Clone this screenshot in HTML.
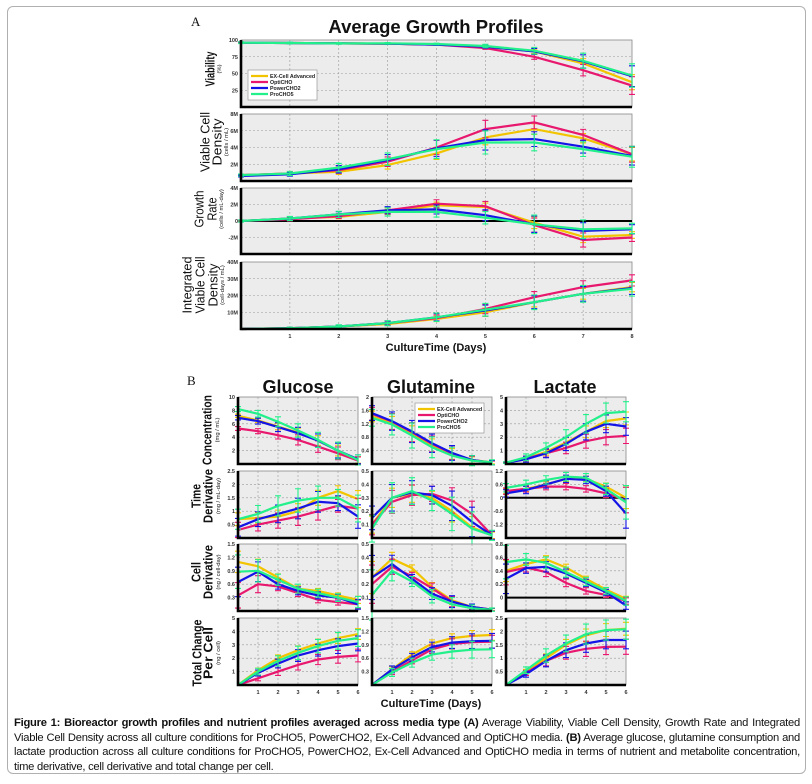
<!DOCTYPE html>
<html><head><meta charset="utf-8"><style>
body{margin:0;background:#fff;width:812px;height:784px;overflow:hidden;font-family:"Liberation Sans",sans-serif}
#frame{position:absolute;left:7px;top:6px;width:799px;height:768px;border:1px solid #b0b0b0;border-radius:6px;box-sizing:border-box}
#cap{position:absolute;left:14px;top:716px;width:786px;font-size:11.2px;line-height:14.6px;color:#111;letter-spacing:-0.25px;text-align:justify}
svg{position:absolute;left:0;top:0}
</style></head><body>
<div id="frame"></div>
<div id="cap"><b>Figure 1: Bioreactor growth profiles and nutrient profiles averaged across media type (A)</b> Average Viability, Viable Cell Density, Growth Rate and Integrated Viable Cell Density across all culture conditions for ProCHO5, PowerCHO2, Ex-Cell Advanced and OptiCHO media. <b>(B)</b> Average glucose, glutamine consumption and lactate production across all culture conditions for ProCHO5, PowerCHO2, Ex-Cell Advanced and OptiCHO media in terms of nutrient and metabolite concentration, time derivative, cell derivative and total change per cell.</div>
<svg id="chart" width="812" height="784"></svg>
<script>
const seriesNames=["EX-Cell Advanced","OptiCHO","PowerCHO2","ProCHO5"];
const colors=["#f2c400","#e8186e","#1414e6","#22f08a"];
const daysA=[0,1,2,3,4,5,6,7,8];
const daysB=[0,1,2,3,4,5,6];
// Part A
const viabY=[96,95.5,95,94.5,93,90,83,65,37];
const viabP=[96,95.5,95,94.5,93,88,75,55,32];
const viabB=[96,95.5,95,94.5,93,90,83,68,46];
const viabG=[96,95.5,95,95,94,91,84,69,47];
const viabErr=[1,1,1,1,1,2,4,9,14];
const vcdY=[0.7,0.9,1.1,1.9,3.3,5.2,6.2,5.1,3.2];
const vcdP=[0.7,0.9,1.3,2.3,4.0,6.2,7.0,5.5,3.2];
const vcdB=[0.6,0.8,1.4,2.5,3.9,4.9,5.0,4.1,3.0];
const vcdG=[0.7,0.9,1.6,2.6,3.8,4.6,4.6,3.8,2.9];
const vcdErr=[0.1,0.2,0.4,0.6,0.9,1.1,0.8,0.7,1.0];
const grY=[0,0.3,0.5,1.1,1.9,1.7,-0.2,-1.9,-1.7];
const grP=[0,0.2,0.6,1.3,2.1,1.8,-0.5,-2.3,-2.0];
const grB=[0,0.3,0.8,1.3,1.4,0.7,-0.4,-1.2,-1.0];
const grG=[0,0.3,0.8,1.1,1.1,0.4,-0.4,-1.0,-0.9];
const grErr=[0.1,0.2,0.3,0.4,0.5,0.6,0.9,0.9,0.5];
const ivY=[0,0.5,1.5,3,6,10,16,21,25];
const ivP=[0,0.5,1.5,3.5,6.5,12,19,25,29];
const ivB=[0,0.5,1.5,3.5,7,11,16,21,24.5];
const ivG=[0,0.5,1.5,3.5,7,11.5,16,21,24];
const ivErr=[0,0.5,0.8,1.2,2,3,3.5,4,3.5];
// Part B - concentration
const gluConcY=[7.2,6.5,5.6,4.7,3.5,2.0,0.6];
const gluConcP=[5.3,4.9,4.3,3.6,2.6,1.6,0.5];
const gluConcB=[6.9,6.4,5.5,4.6,3.5,2.0,0.7];
const gluConcG=[8.2,7.5,6.3,5.0,3.6,2.0,0.6];
const gluConcErr=[0.3,0.4,0.6,0.8,0.9,1.0,0.6];
const glnConcY=[1.42,1.22,0.9,0.55,0.3,0.12,0.05];
const glnConcP=[1.5,1.27,0.95,0.6,0.32,0.12,0.03];
const glnConcB=[1.52,1.28,0.97,0.62,0.33,0.12,0.04];
const glnConcG=[1.38,1.18,0.85,0.5,0.25,0.1,0.05];
const glnConcErr=[0.2,0.25,0.3,0.25,0.2,0.12,0.06];
const lacConcY=[0.1,0.4,0.9,1.6,2.4,3.2,3.4];
const lacConcP=[0.1,0.4,0.8,1.2,1.7,2.0,2.1];
const lacConcB=[0.1,0.35,0.8,1.5,2.4,3.0,2.8];
const lacConcG=[0.1,0.5,1.2,2.0,3.0,3.8,3.9];
const lacConcErr=[0.05,0.2,0.3,0.45,0.55,0.6,0.6];
// time derivative
const gluTdY=[0.7,0.75,0.8,1.0,1.5,1.75,1.45];
const gluTdP=[0.3,0.5,0.65,0.8,1.0,1.2,1.1];
const gluTdB=[0.4,0.7,0.9,1.1,1.35,1.3,0.8];
const gluTdG=[0.7,0.9,1.2,1.4,1.5,1.5,1.1];
const gluTdErr=[0.3,0.25,0.3,0.35,0.35,0.25,0.4];
const glnTdY=[0.1,0.3,0.33,0.3,0.2,0.08,0.02];
const glnTdP=[0.1,0.27,0.32,0.33,0.28,0.18,0.02];
const glnTdB=[0.15,0.3,0.34,0.32,0.24,0.12,0.02];
const glnTdG=[0.07,0.3,0.35,0.28,0.18,0.07,0.02];
const glnTdErr=[0.08,0.09,0.08,0.06,0.1,0.1,0.03];
const lacTdY=[0.3,0.4,0.6,0.85,0.85,0.5,0.0];
const lacTdP=[0.3,0.4,0.5,0.5,0.4,0.2,-0.1];
const lacTdB=[0.2,0.35,0.6,0.85,0.8,0.3,-0.7];
const lacTdG=[0.45,0.6,0.8,0.95,0.9,0.4,-0.2];
const lacTdErr=[0.15,0.15,0.15,0.15,0.15,0.2,0.6];
// cell derivative
const gluCdY=[1.1,1.0,0.75,0.5,0.45,0.35,0.25];
const gluCdP=[0.35,0.6,0.55,0.4,0.25,0.2,0.15];
const gluCdB=[0.65,0.88,0.6,0.45,0.35,0.3,0.15];
const gluCdG=[0.88,0.9,0.7,0.5,0.4,0.3,0.2];
const gluCdErr=[0.3,0.2,0.1,0.08,0.07,0.07,0.1];
const glnCdY=[0.25,0.39,0.32,0.18,0.08,0.03,0.01];
const glnCdP=[0.2,0.33,0.26,0.17,0.07,0.03,0.01];
const glnCdB=[0.25,0.35,0.24,0.13,0.07,0.03,0.01];
const glnCdG=[0.12,0.3,0.22,0.11,0.05,0.02,0.01];
const glnCdErr=[0.15,0.06,0.03,0.04,0.04,0.02,0.01];
const lacCdY=[0.4,0.5,0.57,0.45,0.28,0.12,-0.02];
const lacCdP=[0.38,0.45,0.38,0.22,0.1,0.04,-0.05];
const lacCdB=[0.28,0.44,0.46,0.36,0.22,0.08,-0.12];
const lacCdG=[0.53,0.57,0.52,0.38,0.24,0.1,-0.05];
const lacCdErr=[0.2,0.07,0.07,0.06,0.05,0.04,0.05];
// total change per cell
const gluTcY=[0,1.1,2.0,2.6,3.1,3.5,3.8];
const gluTcP=[0,0.5,1.0,1.5,1.9,2.1,2.2];
const gluTcB=[0,0.9,1.6,2.2,2.6,2.9,3.1];
const gluTcG=[0,1.0,1.8,2.4,2.9,3.3,3.5];
const gluTcErr=[0,0.2,0.3,0.4,0.4,0.5,0.5];
const glnTcY=[0,0.35,0.68,0.93,1.05,1.1,1.12];
const glnTcP=[0,0.3,0.55,0.8,0.92,0.96,0.97];
const glnTcB=[0,0.35,0.62,0.85,0.95,0.98,0.99];
const glnTcG=[0,0.28,0.5,0.68,0.75,0.79,0.8];
const glnTcErr=[0,0.07,0.08,0.1,0.12,0.15,0.15];
const lacTcY=[0,0.5,1.0,1.5,1.85,2.05,2.1];
const lacTcP=[0,0.45,0.9,1.2,1.35,1.42,1.43];
const lacTcB=[0,0.4,0.9,1.3,1.55,1.68,1.68];
const lacTcG=[0,0.55,1.1,1.55,1.9,2.05,2.08];
const lacTcErr=[0,0.1,0.2,0.25,0.3,0.3,0.3];
// tick labels
const ticksViab=[[25,"25"],[50,"50"],[75,"75"],[100,"100"]];
const ticksVcd=[[2,"2M"],[4,"4M"],[6,"6M"],[8,"8M"]];
const ticksGr=[[-2,"-2M"],[0,"0"],[2,"2M"],[4,"4M"]];
const ticksIv=[[10,"10M"],[20,"20M"],[30,"30M"],[40,"40M"]];

const NS="http://www.w3.org/2000/svg";
const svg=document.getElementById('chart');
function el(tag,attrs,parent,text){const e=document.createElementNS(NS,tag);for(const k in attrs)e.setAttribute(k,attrs[k]);if(text!==undefined)e.textContent=text;(parent||svg).appendChild(e);return e;}
function txt(x,y,s,size,opts,parent){const o=Object.assign({x:x,y:y,'font-size':size,'font-family':'Liberation Sans, sans-serif',fill:'#111'},opts||{});return el('text',o,parent,s);}

function panel(name,x0,y0,w,h,xs,ymin,ymax,ticks,series,err,zero,xlabels){
  const g=el('g',{},svg);
  
  
  const xmax=xs[xs.length-1];
  const sx=v=>x0+v/xmax*w, sy=v=>y0+h-(v-ymin)/(ymax-ymin)*h;
  el('rect',{x:x0,y:y0,width:w,height:h,fill:'#ececec',stroke:'#888','stroke-width':0.8},g);
  for(let i=1;i<xmax;i++) el('line',{x1:sx(i),x2:sx(i),y1:y0,y2:y0+h,stroke:'#999','stroke-width':0.6,'stroke-dasharray':'2,2'},g);
  ticks.forEach(t=>{
    if(t[0]<ymax) el('line',{x1:x0,x2:x0+w,y1:sy(t[0]),y2:sy(t[0]),stroke:'#999','stroke-width':0.6,'stroke-dasharray':'2,2'},g);
    const lb=txt(x0-3,sy(t[0])+2,t[1],5.5,{'text-anchor':'end','font-weight':'bold',fill:'#333'},g);
    
    
  });
  if(zero) el('line',{x1:x0,x2:x0+w,y1:sy(0),y2:sy(0),stroke:'#000','stroke-width':2},g);
  series.forEach((s,si)=>{
    const pts=s.map((v,i)=>sx(xs[i]).toFixed(1)+','+sy(v).toFixed(1)).join(' ');
    const ln=el('polyline',{points:pts,fill:'none',stroke:colors[si],'stroke-width':2.2},g);
    
    
    s.forEach((v,i)=>{
      const e=err[i]*(0.8+0.15*si); if(e<=0)return;
      const X=sx(xs[i]);
      el('path',{d:`M${X},${sy(v-e)}V${sy(v+e)}M${X-3},${sy(v-e)}h6M${X-3},${sy(v+e)}h6`,stroke:colors[si],'stroke-width':1.1,fill:'none'},g);
    });
  });
  el('path',{d:`M${x0},${y0}V${y0+h}H${x0+w}`,stroke:'#000','stroke-width':2.6,fill:'none'},g);
  if(xlabels) xs.slice(1).forEach(d=>{const lb=txt(sx(d),y0+h+9,String(d),5.5,{'text-anchor':'middle','font-weight':'bold',fill:'#333'},g);});
  return g;
}
// lines: [text, centerX, length]
function ylabel(name,cy,lines,units,ux,weight){
  const g=el('g',{},svg);
  
  
  const size=12.5;
  lines.forEach(l=>{
    const bx=l[1]+size*0.36;
    txt(bx,cy,l[0],size,{'text-anchor':'middle','font-weight':weight,textLength:l[2],lengthAdjust:'spacingAndGlyphs',transform:`rotate(-90 ${bx} ${cy})`},g);
  });
  txt(ux+2.2,cy,units,5.8,{'text-anchor':'middle',fill:'#222',transform:`rotate(-90 ${ux+2.2} ${cy})`},g);
}
function legend(name,x,y,w,h){
  const g=el('g',{},svg);
  
  
  el('rect',{x:x,y:y,width:w,height:h,fill:'#fff',stroke:'#999','stroke-width':0.7},g);
  seriesNames.forEach((s,i)=>{
    const yy=y+5+i*(h-6)/4+1;
    const it=el('g',{},g);
    
    
    el('line',{x1:x+3,x2:x+20,y1:yy,y2:yy,stroke:colors[i],'stroke-width':2.2},it);
    txt(x+22,yy+2,s,5.3,{'font-weight':'bold',fill:'#222'},it);
  });
}

let t;
t=txt(191,26,"A",13,{'font-family':'Liberation Serif, serif'});
t=txt(436,33,"Average Growth Profiles",18.5,{'text-anchor':'middle','font-weight':'bold'});
t=txt(187,385,"B",13,{'font-family':'Liberation Serif, serif'});
[["Glucose",298],["Glutamine",431],["Lactate",565]].forEach(c=>{t=txt(c[1],393,c[0],18,{'text-anchor':'middle','font-weight':'bold'});});

const AX=241,AW=391;
panel('viability-panel',AX,40,AW,67,daysA,0,100,ticksViab,[viabY,viabP,viabB,viabG],viabErr,false,false);
panel('viable-cell-density-panel',AX,114,AW,67,daysA,0,8,ticksVcd,[vcdY,vcdP,vcdB,vcdG],vcdErr,false,false);
panel('growth-rate-panel',AX,188,AW,66,daysA,-4,4,ticksGr,[grY,grP,grB,grG],grErr,true,false);
panel('integrated-vcd-panel',AX,262,AW,67,daysA,0,40,ticksIv,[ivY,ivP,ivB,ivG],ivErr,false,true);
legend('legend-a',248,70,69,30);
ylabel('y-title-viability',69,[["Viability",210,35]],"(%)",219,'bold');
ylabel('y-title-vcd',142,[["Viable Cell",205,60],["Density",217,47]],"(cells / mL)",226,'normal');
ylabel('y-title-growth-rate',209,[["Growth",199,37],["Rate",212,23]],"(cells / mL-day)",221,'normal');
ylabel('y-title-ivcd',285,[["Integrated",187,57],["Viable Cell",200,57],["Density",213,43]],"(cell-days / mL)",222,'normal');
t=txt(436,351,"CultureTime (Days)",11,{'text-anchor':'middle','font-weight':'bold'});

const colX=[238,372,506],BW=120;
const rowY=[397,471,544,618],BH=67;
const grid=[
 [[gluConcY,gluConcP,gluConcB,gluConcG,gluConcErr,0,10,[[2,"2"],[4,"4"],[6,"6"],[8,"8"],[10,"10"]],false],
  [glnConcY,glnConcP,glnConcB,glnConcG,glnConcErr,0,2,[[0.4,"0.4"],[0.8,"0.8"],[1.2,"1.2"],[1.6,"1.6"],[2,"2"]],false],
  [lacConcY,lacConcP,lacConcB,lacConcG,lacConcErr,0,5,[[1,"1"],[2,"2"],[3,"3"],[4,"4"],[5,"5"]],false]],
 [[gluTdY,gluTdP,gluTdB,gluTdG,gluTdErr,0,2.5,[[0.5,"0.5"],[1,"1"],[1.5,"1.5"],[2,"2"],[2.5,"2.5"]],false],
  [glnTdY,glnTdP,glnTdB,glnTdG,glnTdErr,0,0.5,[[0.1,"0.1"],[0.2,"0.2"],[0.3,"0.3"],[0.4,"0.4"],[0.5,"0.5"]],false],
  [lacTdY,lacTdP,lacTdB,lacTdG,lacTdErr,-1.8,1.2,[[-1.2,"-1.2"],[-0.6,"-0.6"],[0,"0"],[0.6,"0.6"],[1.2,"1.2"]],true]],
 [[gluCdY,gluCdP,gluCdB,gluCdG,gluCdErr,0,1.5,[[0.3,"0.3"],[0.6,"0.6"],[0.9,"0.9"],[1.2,"1.2"],[1.5,"1.5"]],false],
  [glnCdY,glnCdP,glnCdB,glnCdG,glnCdErr,0,0.5,[[0.1,"0.1"],[0.2,"0.2"],[0.3,"0.3"],[0.4,"0.4"],[0.5,"0.5"]],false],
  [lacCdY,lacCdP,lacCdB,lacCdG,lacCdErr,-0.2,0.8,[[0,"0"],[0.2,"0.2"],[0.4,"0.4"],[0.6,"0.6"],[0.8,"0.8"]],true]],
 [[gluTcY,gluTcP,gluTcB,gluTcG,gluTcErr,0,5,[[1,"1"],[2,"2"],[3,"3"],[4,"4"],[5,"5"]],false],
  [glnTcY,glnTcP,glnTcB,glnTcG,glnTcErr,0,1.5,[[0.3,"0.3"],[0.6,"0.6"],[0.9,"0.9"],[1.2,"1.2"],[1.5,"1.5"]],false],
  [lacTcY,lacTcP,lacTcB,lacTcG,lacTcErr,0,2.5,[[0.5,"0.5"],[1,"1"],[1.5,"1.5"],[2,"2"],[2.5,"2.5"]],false]]
];
const rowNames=["concentration","time-derivative","cell-derivative","total-change"];
const colNames=["glucose","glutamine","lactate"];
grid.forEach((row,r)=>row.forEach((c,ci)=>{
  panel(colNames[ci]+'-'+rowNames[r]+'-panel',colX[ci],rowY[r],BW,BH,daysB,c[5],c[6],c[7],[c[0],c[1],c[2],c[3]],c[4],c[8],r===3);
}));
legend('legend-b',415,403,69,30);
ylabel('y-title-concentration',430,[["Concentration",207,70]],"(mg / mL)",217,'bold');
ylabel('y-title-time-derivative',496,[["Time",196,24],["Derivative",208,54]],"(mg / mL-day)",218,'bold');
ylabel('y-title-cell-derivative',572,[["Cell",196,20],["Derivative",208,54]],"(ng / cell-day)",218,'bold');
ylabel('y-title-total-change',653,[["Total Change",197,67],["Per Cell",208,52]],"(ng / cell)",218,'bold');
t=txt(431,707,"CultureTime (Days)",11,{'text-anchor':'middle','font-weight':'bold'});
</script>
</body></html>
